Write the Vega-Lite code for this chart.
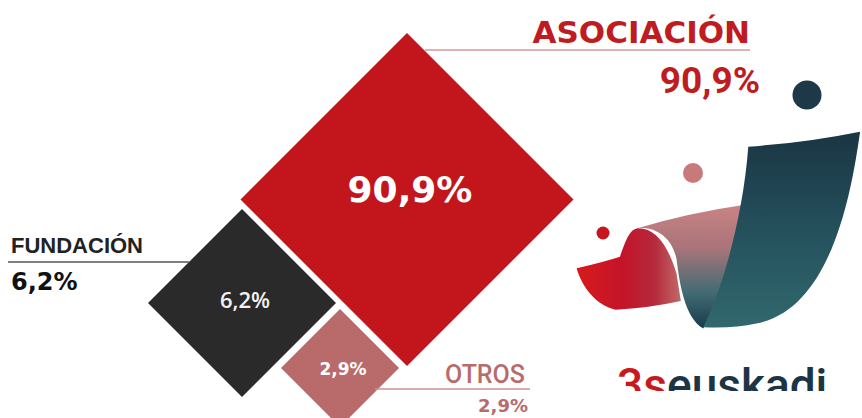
{
  "$schema": "https://vega.github.io/schema/vega-lite/v6.json",
  "width": 862,
  "height": 418,
  "autosize": {"type": "none"},
  "padding": 0,
  "background": "white",
  "config": {"view": {"stroke": null}},
  "datasets": {
    "reparto": [
      {"categoria": "ASOCIACIÓN", "porcentaje": 90.9, "etiqueta": "90,9%", "x": 407, "y": 199.5},
      {"categoria": "FUNDACIÓN", "porcentaje": 6.2, "etiqueta": "6,2%", "x": 242, "y": 303},
      {"categoria": "OTROS", "porcentaje": 2.9, "etiqueta": "2,9%", "x": 340, "y": 368}
    ]
  },
  "encoding": {
    "x": {"field": "x", "type": "quantitative", "scale": {"domain": [0, 862], "nice": false, "zero": false}, "axis": null},
    "y": {"field": "y", "type": "quantitative", "scale": {"domain": [0, 418], "nice": false, "zero": false, "reverse": true}, "axis": null}
  },
  "resolve": {"scale": {"color": "independent", "size": "independent"}},
  "layer": [
    {
      "data": {"values": [{"pieza": "cinta", "x": 720, "y": 230}]},
      "mark": {"type": "point", "filled": true, "opacity": 1, "strokeWidth": 0, "size": 84100,
        "shape": "M-0.575,-0.011 Q-0.2,-0.12 0.15,-0.17 C0.12,0.1 0.02,0.4 -0.115,0.68 C-0.25,0.6 -0.28,0.35 -0.3,0.2 C-0.33,0.05 -0.45,-0.03 -0.575,-0.011 Z",
        "fill": {"gradient": "linear", "x1": 0, "y1": 0, "x2": 0, "y2": 1, "stops": [
          {"offset": 0, "color": "#c98383"}, {"offset": 0.35, "color": "#a8747a"}, {"offset": 0.7, "color": "#436c74"}, {"offset": 1, "color": "#173b4b"}]}}
    },
    {
      "data": {"values": [{"pieza": "rizo", "x": 720, "y": 230}]},
      "mark": {"type": "point", "filled": true, "opacity": 1, "strokeWidth": 0, "size": 84100,
        "shape": "M-0.989,0.264 Q-0.8,0.22 -0.69,0.184 C-0.66,0.1 -0.63,0.0 -0.575,-0.011 C-0.45,-0.02 -0.36,0.1 -0.3,0.3 L-0.27,0.49 Q-0.5,0.54 -0.72,0.55 C-0.85,0.52 -0.95,0.4 -0.989,0.264 Z",
        "fill": {"gradient": "linear", "x1": 0, "y1": 0, "x2": 1, "y2": 0, "stops": [
          {"offset": 0, "color": "#d61b1b"}, {"offset": 0.45, "color": "#c4142a"}, {"offset": 0.75, "color": "#b52a3c"}, {"offset": 1, "color": "#c26a6a"}]}}
    },
    {
      "data": {"values": [{"pieza": "hoja", "x": 720, "y": 230}]},
      "mark": {"type": "point", "filled": true, "opacity": 1, "strokeWidth": 0, "size": 84100,
        "shape": "M0.195,-0.575 Q0.58,-0.6 0.966,-0.678 C0.9,-0.2 0.75,0.55 0.25,0.645 Q0.1,0.68 -0.115,0.671 C0.02,0.4 0.16,-0.1 0.195,-0.575 Z",
        "fill": {"gradient": "linear", "x1": 0, "y1": 0, "x2": 0, "y2": 1, "stops": [
          {"offset": 0, "color": "#1b3543"}, {"offset": 0.5, "color": "#24505c"}, {"offset": 1, "color": "#31686d"}]}}
    },
    {
      "data": {"values": [
        {"tono": "azul", "x": 807, "y": 95},
        {"tono": "rosa", "x": 693, "y": 173},
        {"tono": "rojo", "x": 603, "y": 233}
      ]},
      "mark": {"type": "point", "shape": "circle", "filled": true, "opacity": 1, "strokeWidth": 0},
      "encoding": {
        "color": {"field": "tono", "type": "nominal", "legend": null, "scale": {"domain": ["azul", "rosa", "rojo"], "range": ["#1d3846", "#c87a7a", "#c8141c"]}},
        "size": {"field": "tono", "type": "nominal", "legend": null, "scale": {"type": "ordinal", "domain": ["azul", "rosa", "rojo"], "range": [841, 400, 169]}}
      }
    },
    {
      "data": {"name": "reparto"},
      "mark": {"type": "point", "shape": "diamond", "filled": true, "opacity": 1, "strokeWidth": 0},
      "encoding": {
        "color": {"field": "categoria", "type": "nominal", "legend": null, "scale": {"domain": ["ASOCIACIÓN", "FUNDACIÓN", "OTROS"], "range": ["#c3161c", "#2a2a2a", "#b96a6a"]}},
        "size": {"field": "categoria", "type": "nominal", "legend": null, "scale": {"type": "ordinal", "domain": ["ASOCIACIÓN", "FUNDACIÓN", "OTROS"], "range": [110889, 35344, 13924]}}
      }
    },
    {
      "data": {"name": "reparto"},
      "transform": [{"filter": "datum.categoria == 'ASOCIACIÓN'"}],
      "mark": {"type": "text", "font": "DejaVu Sans", "fontWeight": "bold", "fontSize": 36, "color": "#ffffff", "align": "center", "baseline": "alphabetic", "dx": 3, "dy": 2.5},
      "encoding": {"text": {"field": "etiqueta"}}
    },
    {
      "data": {"name": "reparto"},
      "transform": [{"filter": "datum.categoria == 'FUNDACIÓN'"}],
      "mark": {"type": "text", "font": "Open Sans", "fontWeight": 600, "fontSize": 22, "color": "#f2f2f2", "align": "center", "baseline": "alphabetic", "dx": 3, "dy": 5},
      "encoding": {"text": {"field": "etiqueta"}}
    },
    {
      "data": {"name": "reparto"},
      "transform": [{"filter": "datum.categoria == 'OTROS'"}],
      "mark": {"type": "text", "font": "DejaVu Sans", "fontWeight": "bold", "fontSize": 17, "color": "#ffffff", "align": "center", "baseline": "alphabetic", "dx": 3, "dy": 7},
      "encoding": {"text": {"field": "etiqueta"}}
    },
    {
      "data": {"values": [
        {"categoria": "ASOCIACIÓN", "x": 425, "x2": 750, "y": 50},
        {"categoria": "FUNDACIÓN", "x": 8, "x2": 189, "y": 262},
        {"categoria": "OTROS", "x": 375, "x2": 530, "y": 389}
      ]},
      "mark": {"type": "rule", "strokeWidth": 1.3},
      "encoding": {
        "x2": {"field": "x2"},
        "color": {"field": "categoria", "type": "nominal", "legend": null, "scale": {"domain": ["ASOCIACIÓN", "FUNDACIÓN", "OTROS"], "range": ["#d69a9a", "#555555", "#c99090"]}}
      }
    },
    {
      "data": {"values": [{"texto": "ASOCIACIÓN", "x": 750, "y": 43}]},
      "mark": {"type": "text", "font": "DejaVu Sans", "fontWeight": "bold", "fontSize": 31, "color": "#bf1c22", "align": "right", "baseline": "alphabetic"},
      "encoding": {"text": {"field": "texto"}}
    },
    {
      "data": {"values": [{"texto": "90,9%", "x": 760, "y": 93}]},
      "mark": {"type": "text", "font": "Roboto", "fontWeight": "bold", "fontSize": 37, "color": "#bf1c22", "align": "right", "baseline": "alphabetic"},
      "encoding": {"text": {"field": "texto"}}
    },
    {
      "data": {"values": [{"texto": "FUNDACIÓN", "x": 11, "y": 253}]},
      "mark": {"type": "text", "font": "Liberation Sans", "fontWeight": "bold", "fontSize": 22, "color": "#222222", "align": "left", "baseline": "alphabetic"},
      "encoding": {"text": {"field": "texto"}}
    },
    {
      "data": {"values": [{"texto": "6,2%", "x": 11, "y": 290}]},
      "mark": {"type": "text", "font": "DejaVu Sans", "fontWeight": "bold", "fontSize": 24, "color": "#111111", "align": "left", "baseline": "alphabetic"},
      "encoding": {"text": {"field": "texto"}}
    },
    {
      "data": {"values": [{"texto": "OTROS", "x": 445, "y": 383}]},
      "mark": {"type": "text", "font": "Roboto", "fontWeight": 500, "fontSize": 25, "color": "#b96b6b", "align": "left", "baseline": "alphabetic"},
      "encoding": {"text": {"field": "texto"}}
    },
    {
      "data": {"values": [{"texto": "2,9%", "x": 528, "y": 412}]},
      "mark": {"type": "text", "font": "DejaVu Sans", "fontWeight": "bold", "fontSize": 18, "color": "#b96b6b", "align": "right", "baseline": "alphabetic"},
      "encoding": {"text": {"field": "texto"}}
    },
    {
      "data": {"values": [{"texto": "3s", "x": 617, "y": 401}]},
      "mark": {"type": "text", "font": "Roboto", "fontWeight": 500, "fontSize": 46, "color": "#c81a1e", "align": "left", "baseline": "alphabetic"},
      "encoding": {"text": {"field": "texto"}}
    },
    {
      "data": {"values": [{"texto": "euskadi", "x": 667, "y": 401}]},
      "mark": {"type": "text", "font": "Roboto", "fontWeight": 500, "fontSize": 46, "color": "#1c3444", "align": "left", "baseline": "alphabetic"},
      "encoding": {"text": {"field": "texto"}}
    },
    {
      "data": {"values": [{"zona": "corte", "x": 600, "x2": 862, "y": 391, "y2": 418}]},
      "mark": {"type": "rect", "color": "#ffffff", "opacity": 1},
      "encoding": {"x2": {"field": "x2"}, "y2": {"field": "y2"}}
    }
  ]
}
